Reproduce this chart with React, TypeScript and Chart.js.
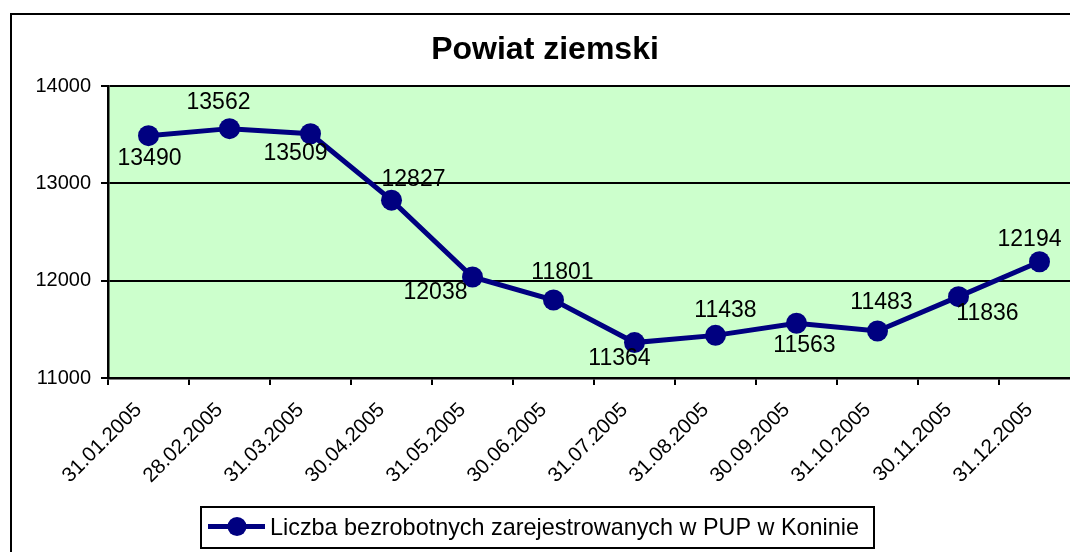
import React, { useEffect, useRef } from "react";
import { Chart, registerables } from "chart.js";

Chart.register(...registerables);

const TITLE = "Powiat ziemski";
const SERIES_NAME = "Liczba bezrobotnych zarejestrowanych w PUP w Koninie";
const CATEGORIES = [
  "31.01.2005",
  "28.02.2005",
  "31.03.2005",
  "30.04.2005",
  "31.05.2005",
  "30.06.2005",
  "31.07.2005",
  "31.08.2005",
  "30.09.2005",
  "31.10.2005",
  "30.11.2005",
  "31.12.2005",
];
const VALUES = [13490, 13562, 13509, 12827, 12038, 11801, 11364, 11438, 11563, 11483, 11836, 12194];
const Y_MIN = 11000;
const Y_MAX = 14000;
const Y_STEP = 1000;

// label offsets (style only) relative to each point, in px
const LABEL_OFFSETS: [number, number][] = [
  [1, 23],
  [-11, -26],
  [-15, 20],
  [22, -21],
  [-37, 16],
  [9, -27],
  [-15, 16],
  [10, -25],
  [8, 22],
  [4, -28],
  [29, 17],
  [-10, -22],
];

const FONT = "'Liberation Sans', Arial, sans-serif";
const NAVY = "#000080";
const PLOT_BG = "#CCFFCC";

const decorPlugin = {
  id: "decor",
  beforeDraw(chart: any) {
    const { ctx, chartArea } = chart;
    ctx.save();
    ctx.fillStyle = "#ffffff";
    ctx.fillRect(0, 0, chart.width, chart.height);
    ctx.fillStyle = PLOT_BG;
    ctx.fillRect(chartArea.left, chartArea.top, chartArea.right - chartArea.left, chartArea.bottom - chartArea.top);
    ctx.restore();
  },
  afterDatasetsDraw(chart: any) {
    const { ctx } = chart;
    const meta = chart.getDatasetMeta(0);
    ctx.save();
    ctx.fillStyle = "#000000";
    ctx.font = `23px ${FONT}`;
    ctx.textAlign = "center";
    ctx.textBaseline = "middle";
    meta.data.forEach((pt: any, i: number) => {
      const [dx, dy] = LABEL_OFFSETS[i] || [0, -20];
      ctx.fillText(String(VALUES[i]), pt.x + dx, pt.y + dy);
    });
    ctx.restore();
  },
  afterDraw(chart: any) {
    const { ctx } = chart;
    ctx.save();
    // outer chart border
    ctx.strokeStyle = "#000000";
    ctx.lineWidth = 2;
    ctx.strokeRect(11, 14, chart.width + 20, chart.height + 20);
    // legend
    const bx = 201, by = 507, bw = 673, bh = 41;
    ctx.fillStyle = "#ffffff";
    ctx.fillRect(bx, by, bw, bh);
    ctx.strokeRect(bx, by, bw, bh);
    const cy = by + bh / 2 - 1;
    ctx.strokeStyle = NAVY;
    ctx.lineWidth = 5;
    ctx.beginPath();
    ctx.moveTo(208, cy);
    ctx.lineTo(265, cy);
    ctx.stroke();
    ctx.fillStyle = NAVY;
    ctx.beginPath();
    ctx.arc(237, cy, 9.5, 0, Math.PI * 2);
    ctx.fill();
    ctx.fillStyle = "#000000";
    ctx.font = `23.4px ${FONT}`;
    ctx.textAlign = "left";
    ctx.textBaseline = "middle";
    ctx.fillText(SERIES_NAME, 270, cy + 2);
    ctx.restore();
  },
};

export default function App() {
  const ref = useRef<HTMLCanvasElement | null>(null);

  useEffect(() => {
    if (!ref.current) return;
    const chart = new Chart(ref.current, {
      type: "line",
      data: {
        labels: CATEGORIES,
        datasets: [
          {
            label: SERIES_NAME,
            data: VALUES,
            borderColor: NAVY,
            backgroundColor: NAVY,
            borderWidth: 5,
            pointRadius: 10.5,
            pointHoverRadius: 10.5,
            pointBackgroundColor: NAVY,
            pointBorderColor: NAVY,
            pointBorderWidth: 0,
            tension: 0,
          },
        ],
      },
      options: {
        responsive: false,
        animation: false,
        layout: { padding: { left: 10, right: 20, top: 0, bottom: 0 } },
        plugins: {
          legend: { display: false },
          tooltip: { enabled: false },
          title: {
            display: true,
            text: TITLE,
            color: "#000000",
            font: { family: FONT, size: 32, weight: "bold", lineHeight: 1.2 },
            padding: { top: 31.3, bottom: 16.3 },
          },
        },
        scales: {
          x: {
            type: "category",
            offset: true,
            afterFit(scale: any) {
              scale.height = 552 - 378;
            },
            grid: {
              offset: true,
              drawOnChartArea: false,
              drawTicks: true,
              tickLength: 7,
              color: "#000000",
              lineWidth: 2,
            },
            border: { display: true, color: "#000000", width: 2.5 },
            ticks: {
              autoSkip: false,
              minRotation: 45,
              maxRotation: 45,
              padding: 13,
              labelOffset: -10,
              color: "#000000",
              font: { family: FONT, size: 20.5 },
            },
          },
          y: {
            min: Y_MIN,
            max: Y_MAX,
            afterFit(scale: any) {
              scale.width = 98;
            },
            grid: {
              drawOnChartArea: true,
              drawTicks: true,
              tickLength: 7,
              color: "#000000",
              lineWidth: 2,
            },
            border: { display: true, color: "#000000", width: 2.5 },
            ticks: {
              stepSize: Y_STEP,
              padding: 10,
              color: "#000000",
              font: { family: FONT, size: 20 },
              callback: (v: any) => String(v),
            },
          },
        },
      },
      plugins: [decorPlugin],
    });
    return () => chart.destroy();
  }, []);

  return (
    <div
      style={{
        position: "fixed",
        left: 0,
        top: 0,
        width: 1070,
        height: 552,
        overflow: "hidden",
        background: "#ffffff",
      }}
    >
      <canvas ref={ref} width={1100} height={552} style={{ display: "block", width: 1100, height: 552 }} />
    </div>
  );
}
